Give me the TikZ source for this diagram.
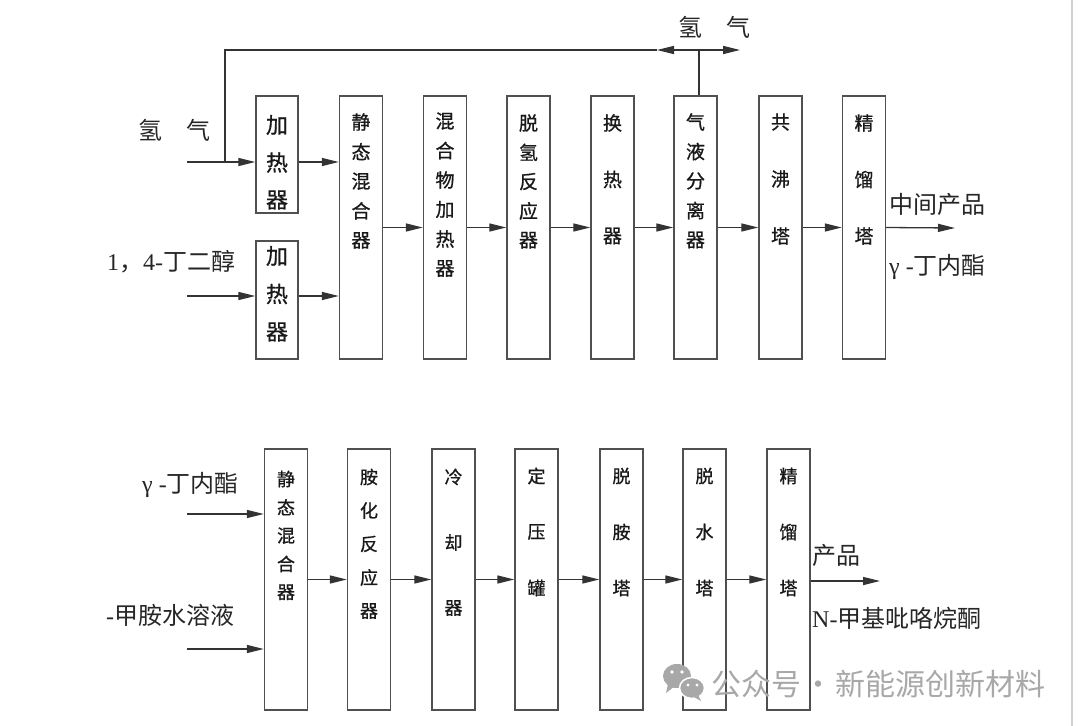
\documentclass[tikz,border=0pt]{standalone}
\usepackage{fontspec}
\setmainfont{Noto Sans CJK SC}
\newfontfamily\boxfont[FakeBold=0.8]{Noto Sans CJK SC}
\newfontfamily\lat{Liberation Serif}
\usetikzlibrary{arrows.meta,calc}
\definecolor{ln}{HTML}{333333}
\definecolor{bx}{HTML}{505050}
\definecolor{wm}{HTML}{A8A8A8}
\newcommand\vtxt[5]{%
  \foreach \c [count=\i from 0] in {#5} {%
    \pgfmathsetmacro\yy{#2+\i*#3}
    \node[font=\boxfont\fontsize{#4}{#4}\selectfont, inner sep=0, text=black!90] (#1-\i) at (#1.center |- 0,\yy) {\c};}}
\begin{document}
\begin{tikzpicture}[x=1pt,y=-1pt,
  box/.style={draw=bx, line width=1.4pt, inner sep=0, minimum width=43pt},
  flow/.style={draw=ln, line width=1.3pt, -{Triangle[length=17pt,width=8pt]}},
  pipe/.style={draw=ln, line width=1.3pt},
  lab/.style={font=\fontsize{24}{24}\selectfont, inner sep=0, text=black!85}]
\useasboundingbox (0,0) rectangle (1080,726);
\fill[white] (0,0) rectangle (1080,726);

% ---------- top process ----------
\node[box, minimum width=42pt, minimum height=117pt] (h1) at (277,154.5) {};
\node[box, minimum width=42pt, minimum height=118pt] (h2) at (277,300) {};
\node[box, minimum height=263pt] (mix1) at (361,227.5) {};
\node[box, minimum height=263pt] (mh)   at (445,227.5) {};
\node[box, minimum height=263pt] (dr)   at (528.5,227.5) {};
\node[box, minimum height=263pt] (hx)   at (612.5,227.5) {};
\node[box, minimum height=263pt] (gls)  at (695.5,227.5) {};
\node[box, minimum height=263pt] (az)   at (780.5,227.5) {};
\node[box, minimum height=263pt] (rec1) at (864,227.5) {};

\vtxt{h1}{125}{37.5}{22}{加,热,器}
\vtxt{h2}{256}{38}{22}{加,热,器}
\vtxt{mix1}{122}{29.6}{19}{静,态,混,合,器}
\vtxt{mh}{121}{29.5}{19}{混,合,物,加,热,器}
\vtxt{dr}{123}{29.3}{19}{脱,氢,反,应,器}
\vtxt{hx}{123}{56.5}{19}{换,热,器}
\vtxt{gls}{122}{29.5}{19}{气,液,分,离,器}
\vtxt{az}{122}{57}{19}{共,沸,塔}
\vtxt{rec1}{123}{56.5}{19}{精,馏,塔}

\coordinate (hin) at (187,162);
\coordinate (bin) at (187,296);
\coordinate (jn) at (225,162);
\coordinate (lc) at (225,50);
\coordinate (tj) at (699,50);
\coordinate (tl) at (657,50);
\coordinate (tr) at (740,50);
\coordinate (out1) at (955,228);

\draw[flow] (hin) -- (hin -| h1.west);
\draw[flow] (bin) -- (bin -| h2.west);
\draw[flow] (h1.east |- hin) -- (mix1.west |- hin);
\draw[flow] (h2.east |- bin) -- (mix1.west |- bin);
\draw[flow] (mix1.east) -- (mh.west);
\draw[flow] (mh.east) -- (dr.west);
\draw[flow] (dr.east) -- (hx.west);
\draw[flow] (hx.east) -- (gls.west);
\draw[flow] (gls.east) -- (az.west);
\draw[flow] (az.east) -- (rec1.west);
\draw[flow] (rec1.east) -- (out1);

\draw[pipe] (gls.north -| tj) -- (tj);
\draw[flow] (tj) -- (tr);
\draw[flow] (tj) -- (tl);
\draw[pipe, line join=miter] (tl) -- (lc) -- (jn);

\node[lab] (h2a) at (174,130) {氢\hspace{24pt}气};
\node[lab] (h2b) at (714.5,27) {氢\hspace{25pt}气};
\node[lab, anchor=west] (bdo) at (107,262) {{\lat 1}，{\lat 4-}丁二醇};
\node[lab, anchor=west] (mid) at (889,204) {中间产品};
\node[lab, anchor=west] (gbl1) at (889,267) {{\lat γ -}丁内酯};

% ---------- bottom process ----------
\node[box, minimum height=261pt] (bmix) at (286,579.5) {};
\node[box, minimum height=261pt] (am)   at (369,579.5) {};
\node[box, minimum height=261pt] (cool) at (453.5,579.5) {};
\node[box, minimum height=261pt] (pt)   at (536.5,579.5) {};
\node[box, minimum height=261pt] (da)   at (621.5,579.5) {};
\node[box, minimum height=261pt] (dw)   at (704.5,579.5) {};
\node[box, minimum height=261pt] (rec2) at (788.5,579.5) {};

\vtxt{bmix}{479}{28.3}{18}{静,态,混,合,器}
\vtxt{am}{477}{33.5}{18}{胺,化,反,应,器}
\vtxt{cool}{477}{65.5}{18}{冷,却,器}
\vtxt{pt}{476}{56}{18}{定,压,罐}
\vtxt{da}{476}{56}{18}{脱,胺,塔}
\vtxt{dw}{476}{56}{18}{脱,水,塔}
\vtxt{rec2}{476}{56}{18}{精,馏,塔}

\coordinate (gin) at (187,514);
\coordinate (min) at (187,649);
\coordinate (out2) at (880,581);

\draw[flow] (gin) -- (gin -| bmix.west);
\draw[flow] (min) -- (min -| bmix.west);
\draw[flow] (bmix.east) -- (am.west);
\draw[flow] (am.east) -- (cool.west);
\draw[flow] (cool.east) -- (pt.west);
\draw[flow] (pt.east) -- (da.west);
\draw[flow] (da.east) -- (dw.west);
\draw[flow] (dw.east) -- (rec2.west);
\draw[flow] (rec2.east |- out2) -- (out2);

\node[lab, anchor=west] (gbl2) at (142,485) {{\lat γ -}丁内酯};
\node[lab, anchor=west] (ma) at (106,615) {{\lat -}甲胺水溶液};
\node[lab, anchor=west] (prod) at (812,555) {产品};
\node[lab, anchor=west] (nmp) at (812,618) {{\lat N-}甲基吡咯烷酮};

% ---------- watermark ----------
\fill[wm] (677,676) ellipse (14 and 12);
\fill[wm] (668,684) -- (666,693) -- (675,686) -- cycle;
\fill[white] (672,672) circle (1.8) (682,672) circle (1.8);
\filldraw[fill=wm, draw=white, line width=1.5pt] (692,688) ellipse (12.5 and 10.5);
\fill[wm] (698,695) -- (701,701) -- (694,697) -- cycle;
\fill[white] (688,685) circle (1.6) (697,685) circle (1.6);
\node[anchor=west, inner sep=0, text=wm, font=\fontsize{30}{30}\selectfont] (wmk) at (711,684) {公众号\hspace{12pt}\makebox[10pt]{·}\hspace{12pt}新能源创新材料};

\draw[color=black!18, line width=2pt] (1072,0) -- (1072,726);
\end{tikzpicture}
\end{document}
